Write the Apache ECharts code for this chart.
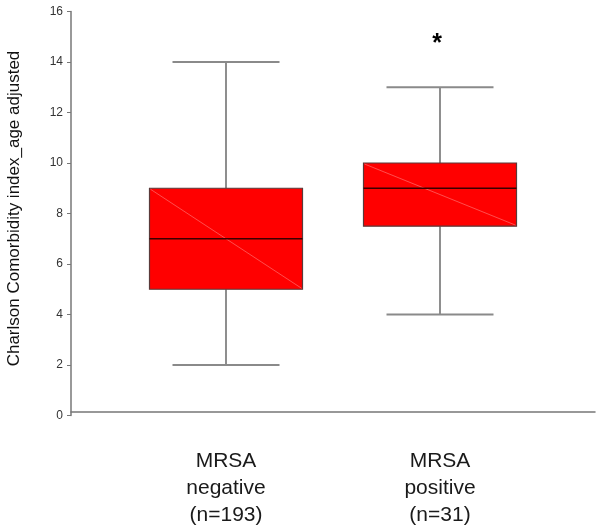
<!DOCTYPE html>
<html>
<head>
<meta charset="utf-8">
<script src="https://cdn.jsdelivr.net/npm/echarts@6/dist/echarts.min.js"></script>
<style>
html,body{margin:0;padding:0;background:#fff;}
#chart{width:600px;height:529px;}
</style>
</head>
<body>
<div id="chart"></div>
<script>
// ---- data ----
var categories = ['MRSA\nnegative\n(n=193)', 'MRSA\npositive\n(n=31)'];
var whiskerLow = [2, 4];
var q1 = [5, 7.5];
var median = [7, 9];
var q3 = [9, 10];
var whiskerHigh = [14, 13];
var significance = ['', '*'];
var significanceY = [15, 15];
var yTicks = [0, 2, 4, 6, 8, 10, 12, 14, 16];
var yTitle = 'Charlson Comorbidity index_age adjusted';

var boxData = categories.map(function (c, i) {
  return [i, whiskerLow[i], q1[i], median[i], q3[i], whiskerHigh[i], significanceY[i]];
});

var chart = echarts.init(document.getElementById('chart'), null, {renderer: 'canvas'});

function renderBox(params, api) {
  var idx = api.value(0);
  var band = api.size([1, 0])[0];
  var bw = band * 0.715;
  var cw = band * 0.5;
  var pLow = api.coord([idx, api.value(1)]);
  var pQ1 = api.coord([idx, api.value(2)]);
  var pMed = api.coord([idx, api.value(3)]);
  var pQ3 = api.coord([idx, api.value(4)]);
  var pHigh = api.coord([idx, api.value(5)]);
  var pSig = api.coord([idx, api.value(6)]);
  var cx = pMed[0];
  var children = [
    {type: 'line', shape: {x1: cx, y1: pHigh[1], x2: cx, y2: pQ3[1]}, style: {stroke: '#444', lineWidth: 1.2}},
    {type: 'line', shape: {x1: cx, y1: pQ1[1], x2: cx, y2: pLow[1]}, style: {stroke: '#444', lineWidth: 1.2}},
    {type: 'line', shape: {x1: cx - cw / 2, y1: pHigh[1], x2: cx + cw / 2, y2: pHigh[1]}, style: {stroke: '#8a8a8a', lineWidth: 2}},
    {type: 'line', shape: {x1: cx - cw / 2, y1: pLow[1], x2: cx + cw / 2, y2: pLow[1]}, style: {stroke: '#8a8a8a', lineWidth: 2}},
    {type: 'rect', shape: {x: cx - bw / 2, y: pQ3[1], width: bw, height: pQ1[1] - pQ3[1]},
      style: {fill: '#ff0000', stroke: '#5a3a3a', lineWidth: 1.2}},
    {type: 'line', shape: {x1: cx - bw / 2 + 1, y1: pQ3[1] + 1, x2: cx + bw / 2 - 1, y2: pQ1[1] - 1},
      style: {stroke: 'rgba(255,140,140,0.55)', lineWidth: 1}},
    {type: 'line', shape: {x1: cx - bw / 2, y1: pMed[1], x2: cx + bw / 2, y2: pMed[1]}, style: {stroke: '#3a0000', lineWidth: 1.5}}
  ];
  var sig = significance[idx];
  if (sig) {
    children.push({type: 'text', x: cx - 3, y: pSig[1] + 7,
      style: {text: sig, fill: '#000', font: 'bold 25px "Liberation Sans", Arial, sans-serif', align: 'center', verticalAlign: 'middle'}});
  }
  return {type: 'group', children: children};
}

var option = {
  animation: false,
  backgroundColor: '#fff',
  grid: [
    {left: 71, right: 5, top: 11.5, height: 404, containLabel: false, outerBoundsMode: 'none'},
    {left: 119, width: 428, top: 11.5, height: 404, containLabel: false, outerBoundsMode: 'none'}
  ],
  xAxis: [
    {type: 'value', gridIndex: 0, min: 0, max: 1, offset: -3.5,
      axisLine: {show: true, onZero: false, lineStyle: {color: '#777', width: 1.5}},
      axisTick: {show: false}, axisLabel: {show: false}, splitLine: {show: false}},
    {type: 'category', gridIndex: 1, data: categories, boundaryGap: true,
      axisLine: {show: false}, axisTick: {show: false}, splitLine: {show: false},
      axisLabel: {interval: 0, margin: 32, color: '#1a1a1a', fontSize: 21, lineHeight: 27,
        fontFamily: '"Liberation Sans", Arial, sans-serif', align: 'center'}}
  ],
  yAxis: [
    {type: 'value', gridIndex: 0, min: yTicks[0], max: yTicks[yTicks.length - 1], interval: 2,
      name: yTitle, nameLocation: 'middle', nameGap: 48, nameRotate: 90,
      nameTextStyle: {color: '#111', fontSize: 17, fontFamily: '"Liberation Sans", Arial, sans-serif',
        padding: [0, 0, 0, 10]},
      axisLine: {show: true, lineStyle: {color: '#777', width: 1.5}},
      axisTick: {show: true, inside: false, length: 4, lineStyle: {color: '#777'}},
      axisLabel: {color: '#333', fontSize: 12, margin: 8, fontFamily: '"Liberation Sans", Arial, sans-serif'},
      splitLine: {show: false}},
    {type: 'value', gridIndex: 1, min: yTicks[0], max: yTicks[yTicks.length - 1], interval: 2, show: false}
  ],
  series: [
    {type: 'custom', xAxisIndex: 1, yAxisIndex: 1, data: boxData, renderItem: renderBox,
      encode: {x: 0, y: [1, 2, 3, 4, 5]}, silent: true}
  ]
};
chart.setOption(option);
</script>
</body>
</html>
